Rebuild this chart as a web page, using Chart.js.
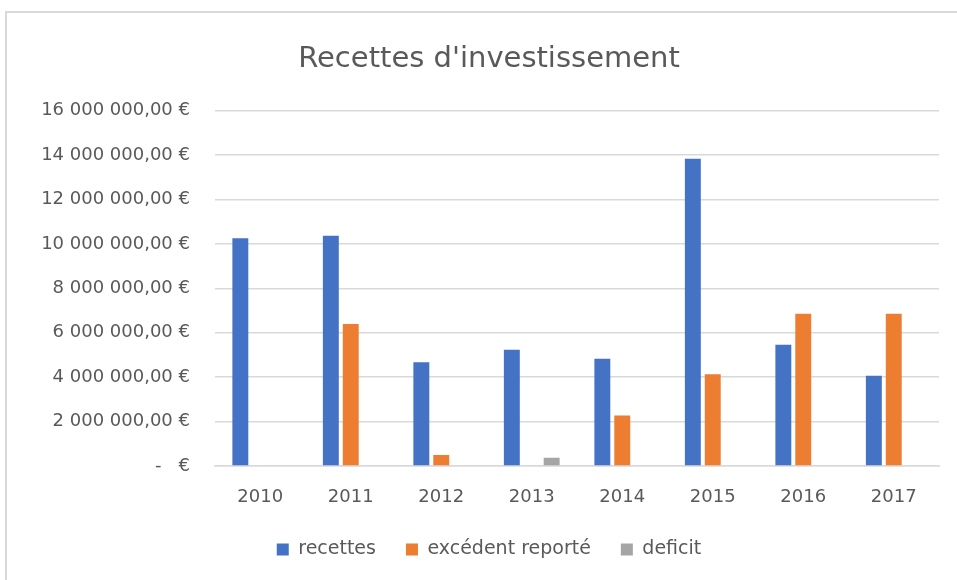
<!DOCTYPE html>
<html>
<head>
<meta charset="utf-8">
<script src="https://cdn.jsdelivr.net/npm/chart.js@4.4.1/dist/chart.umd.min.js"></script>
<style>
  html, body { margin: 0; padding: 0; background: #fff; overflow: hidden; }
  #frame { position: absolute; left: 5px; top: 11px; width: 1000px; height: 1000px; border: 2px solid #d9d9d9; }
  #wrap { position: absolute; left: 0; top: 0; width: 957px; height: 580px; }
</style>
</head>
<body>
<div id="frame"></div>
<div id="wrap"><canvas id="RecettesChart" width="957" height="580"></canvas></div>
<script>
const years = ['2010', '2011', '2012', '2013', '2014', '2015', '2016', '2017'];
const recettes = [10260000, 10370000, 4670000, 5240000, 4830000, 13840000, 5460000, 4070000];
const excedentReporte = [0, 6400000, 500000, 0, 2280000, 4130000, 6860000, 6860000];
const deficit = [0, 0, 0, 370000, 0, 0, 0, 0];
const yTicks = [0, 2000000, 4000000, 6000000, 8000000, 10000000, 12000000, 14000000, 16000000];

const FONT = "'DejaVu Sans', sans-serif";
const TEXT = '#595959';
const GRID = '#d9d9d9';

// "16 000 000,00 €" style, zero shown as "-   €"
function formatEuro(v) {
  if (v === 0) return '-   €';
  const s = Math.round(v).toString().replace(/\B(?=(\d{3})+(?!\d))/g, ' ');
  return s + ',00 €';
}

function main() {
  const ctx = document.getElementById('RecettesChart').getContext('2d');
  new Chart(ctx, {
    type: 'bar',
    data: {
      labels: years,
      datasets: [
        { label: 'recettes', data: recettes, backgroundColor: '#4472C4' },
        { label: 'excédent reporté', data: excedentReporte, backgroundColor: '#ED7D31' },
        { label: 'deficit', data: deficit, backgroundColor: '#A5A5A5' }
      ]
    },
    options: {
      responsive: false,
      animation: false,
      layout: { padding: { left: 39, right: 18, top: 0, bottom: 11 } },
      datasets: { bar: { categoryPercentage: 0.66, barPercentage: 0.8 } },
      plugins: {
        title: {
          display: true,
          text: "Recettes d'investissement",
          color: TEXT,
          font: { family: FONT, size: 29, weight: 'normal' },
          padding: { top: 42, bottom: 34 }
        },
        legend: {
          position: 'bottom',
          labels: {
            color: TEXT,
            font: { family: FONT, size: 19 },
            boxWidth: 12,
            boxHeight: 12,
            padding: 30
          }
        },
        tooltip: { enabled: false }
      },
      scales: {
        x: {
          grid: { display: false, drawTicks: false },
          border: { color: GRID, width: 1.5 },
          ticks: { color: TEXT, font: { family: FONT, size: 18 }, padding: 21 },
          afterFit: scale => { scale.height = 44; }
        },
        y: {
          min: 0,
          max: 16000000,
          afterBuildTicks: scale => { scale.ticks = yTicks.map(v => ({ value: v })); },
          grid: { color: GRID, lineWidth: 1.5, drawTicks: false },
          border: { display: false },
          ticks: { color: TEXT, font: { family: FONT, size: 18 }, padding: 25, callback: v => formatEuro(v) },
          afterFit: scale => { scale.width = 176; }
        }
      }
    }
  });
}

window.onload = main;
</script>
</body>
</html>
